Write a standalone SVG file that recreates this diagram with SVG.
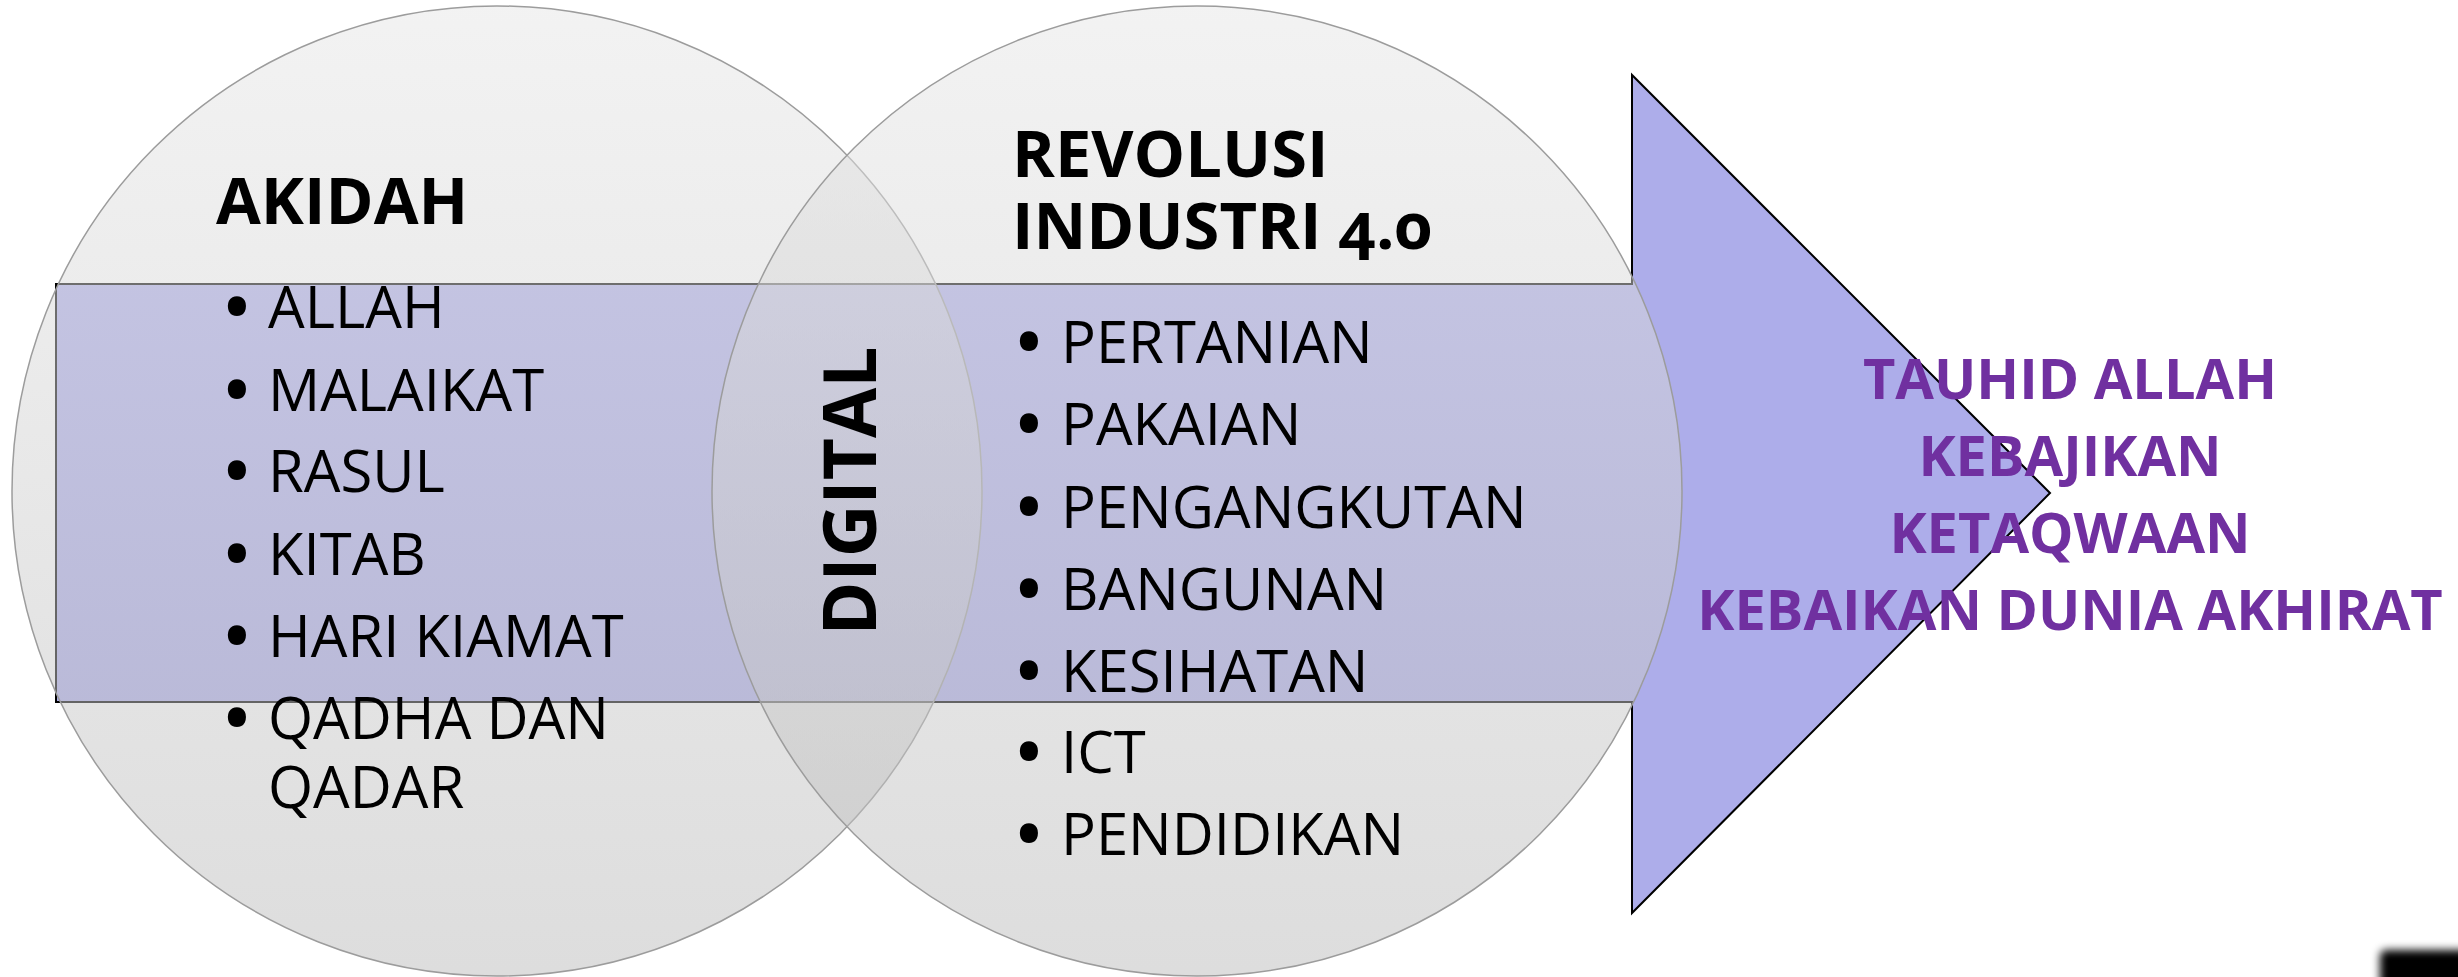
<svg xmlns="http://www.w3.org/2000/svg" width="2458" height="977" viewBox="0 0 2458 977">
<style>
.t{font-family:"Open Sans","Liberation Sans",sans-serif;fill:#000}
.h{font-weight:700;font-size:65px}
.li{font-size:58px}
.bu{stroke:#000;stroke-width:6;stroke-linejoin:round}
.dg{font-weight:700;font-size:73px}
.pu{font-family:"Open Sans","Liberation Sans",sans-serif;font-weight:700;font-size:56px;fill:#7030a0;text-anchor:middle}
.circ{fill:url(#cg);fill-opacity:0.5;stroke:#9c9c9c;stroke-width:1.5}
</style>
<defs>
<linearGradient id="cg" x1="0" y1="0" x2="0" y2="1">
<stop offset="0" stop-color="#e6e6e6"/>
<stop offset="1" stop-color="#bbbbbb"/>
</linearGradient>
<filter id="bl" x="-50%" y="-50%" width="200%" height="200%"><feGaussianBlur stdDeviation="4"/></filter>
</defs>
<rect width="2458" height="977" fill="#fff"/>
<g id="arrow">
<path d="M56,284 H1632 V75 L2050,493 L1632,913 V702 H56 Z" fill="#adadea" stroke="#000" stroke-width="2"/>
</g>
<g id="circle-akidah">
<circle class="circ" cx="497" cy="491" r="485"/>
</g>
<g id="circle-revolusi">
<circle class="circ" cx="1197" cy="491" r="485"/>
</g>
<g id="connectors"></g>
<g id="akidah-text" class="t">
<text class="h" x="216" y="224">AKIDAH</text>
<text class="li" y="328"><tspan class="bu" x="226">•</tspan><tspan x="268">ALLAH</tspan></text>
<text class="li" y="411"><tspan class="bu" x="226">•</tspan><tspan x="268">MALAIKAT</tspan></text>
<text class="li" y="492"><tspan class="bu" x="226">•</tspan><tspan x="268">RASUL</tspan></text>
<text class="li" y="575"><tspan class="bu" x="226">•</tspan><tspan x="268">KITAB</tspan></text>
<text class="li" y="657"><tspan class="bu" x="226">•</tspan><tspan x="268">HARI KIAMAT</tspan></text>
<text class="li" y="739"><tspan class="bu" x="226">•</tspan><tspan x="268">QADHA DAN</tspan><tspan x="268" y="808">QADAR</tspan></text>
</g>
<g id="revolusi-text" class="t">
<text class="h" x="1012" y="177" style="font-feature-settings:'onum'">REVOLUSI<tspan x="1012" y="249">INDUSTRI 4.0</tspan></text>
<text class="li" y="363"><tspan class="bu" x="1018">•</tspan><tspan x="1061">PERTANIAN</tspan></text>
<text class="li" y="445"><tspan class="bu" x="1018">•</tspan><tspan x="1061">PAKAIAN</tspan></text>
<text class="li" y="528"><tspan class="bu" x="1018">•</tspan><tspan x="1061">PENGANGKUTAN</tspan></text>
<text class="li" y="610"><tspan class="bu" x="1018">•</tspan><tspan x="1061">BANGUNAN</tspan></text>
<text class="li" y="692"><tspan class="bu" x="1018">•</tspan><tspan x="1061">KESIHATAN</tspan></text>
<text class="li" y="773"><tspan class="bu" x="1018">•</tspan><tspan x="1061">ICT</tspan></text>
<text class="li" y="855"><tspan class="bu" x="1018">•</tspan><tspan x="1061">PENDIDIKAN</tspan></text>
</g>
<g id="digital">
<text class="t dg" x="0" y="0" text-anchor="middle" transform="translate(876,491) rotate(-90)">DIGITAL</text>
</g>
<g id="result-text">
<text class="pu" x="2070" y="399">TAUHID ALLAH</text>
<text class="pu" x="2070" y="476">KEBAJIKAN</text>
<text class="pu" x="2070" y="553">KETAQWAAN</text>
<text class="pu" x="2070" y="630">KEBAIKAN DUNIA AKHIRAT</text>
</g>
<rect x="2380" y="950" width="90" height="40" rx="6" fill="#000" filter="url(#bl)"/>
</svg>
